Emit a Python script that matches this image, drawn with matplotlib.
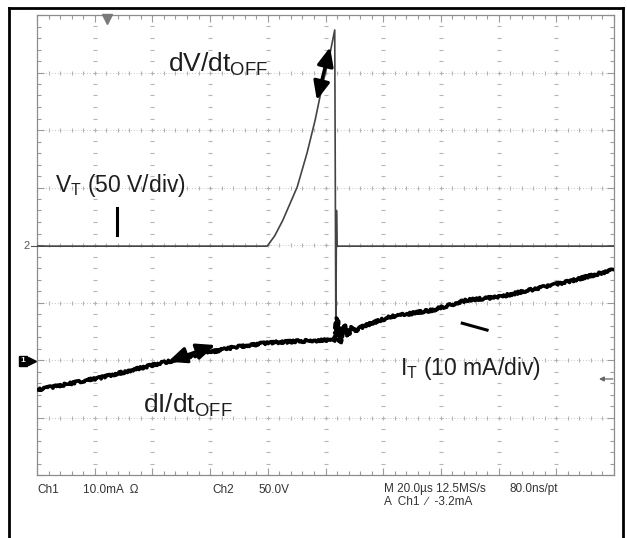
import matplotlib
matplotlib.use('Agg')
import matplotlib.pyplot as plt
import numpy as np
from matplotlib.lines import Line2D
from matplotlib.ticker import MultipleLocator

plt.rcParams.update({
    'font.family': ['Liberation Sans', 'DejaVu Sans'],
    'mathtext.default': 'regular',
})

W, H = 627, 538

# Ch2: device voltage V_T, in screen divisions (x: 0..10, y: 0..8)
v_time = [0.0, 3.99, 4.12, 4.26, 4.51, 4.68, 4.82, 4.94, 5.08, 5.16,
          5.18, 5.19, 5.20, 5.21, 10.0]
v_level = [3.98, 3.98, 4.16, 4.43, 5.01, 5.60, 6.17, 6.75, 7.34, 7.74,
           2.35, 4.60, 3.98, 3.98, 3.98]

# Ch1: device current I_T, in screen divisions
i_time = [0.0, 1.09, 1.96, 2.82, 3.42, 3.99, 4.60, 5.16, 5.20, 5.25, 5.32,
          5.39, 5.46, 5.53, 5.60, 5.72, 6.12, 6.86, 7.45, 8.02, 8.60, 9.19, 10.0]
i_level = [1.48, 1.69, 1.90, 2.10, 2.22, 2.30, 2.33, 2.35, 2.73, 2.30, 2.61,
           2.43, 2.57, 2.49, 2.56, 2.61, 2.75, 2.87, 3.04, 3.10, 3.23, 3.36, 3.57]

fig = plt.figure(figsize=(W / 100, H / 100), dpi=100)
fig.patch.set_facecolor('white')


def fxy(x, y):
    return x / W, 1 - y / H


# outer black frame (left, top, right)
for xs, ys in [((9, 9), (8, H)), ((9, 623), (8, 8)), ((623, 623), (8, H))]:
    fig.add_artist(Line2D([x / W for x in xs], [1 - y / H for y in ys],
                          color='black', lw=2.0, transform=fig.transFigure))

ax = fig.add_axes([37 / W, 1 - 475 / H, 577 / W, 460 / H])
ax.set_xlim(0, 10)
ax.set_ylim(0, 8)

# graticule
grid_c = '#b4b4b4'
for gx in range(1, 10):
    ax.plot([gx] * 41, np.arange(0, 8.01, 0.2), ls='none', marker='_',
            ms=3, mew=0.8, color=grid_c, zorder=1)
for gy in range(1, 8):
    ax.axhline(gy, color=grid_c, lw=0.6, ls=(0, (1, 2.5)), zorder=1)
    ax.plot(np.arange(0, 10.01, 0.2), [gy] * 51, ls='none', marker='|',
            ms=3, mew=0.8, color=grid_c, zorder=1)

for s in ax.spines.values():
    s.set_color('#8c8c8c')
    s.set_linewidth(0.9)
ax.xaxis.set_major_locator(MultipleLocator(1))
ax.yaxis.set_major_locator(MultipleLocator(1))
ax.xaxis.set_minor_locator(MultipleLocator(0.2))
ax.yaxis.set_minor_locator(MultipleLocator(0.2))
ax.tick_params(which='both', direction='in', top=True, right=True,
               labelbottom=False, labelleft=False, color='#9a9a9a')
ax.tick_params(which='major', length=5, width=0.8)
ax.tick_params(which='minor', length=3, width=0.8)

# traces
ax.plot(v_time, v_level, color='#444444', lw=1.2, zorder=3)
cur, = ax.plot(i_time, i_level, color='black', lw=2.6, zorder=4)
cur.set_sketch_params(scale=1.3, length=1.0, randomness=2)

# annotations
lab_c = '#1e1e1e'
ax.text(2.27, 7.01, 'dV/dt$_{OFF}$', fontsize=19, color=lab_c, va='baseline')
ax.text(0.31, 4.92, 'V$_T$ (50 V/div)', fontsize=16.5, color=lab_c, va='baseline')
ax.text(6.29, 1.74, 'I$_T$ (10 mA/div)', fontsize=16.5, color=lab_c, va='baseline')
ax.text(1.84, 1.08, 'dI/dt$_{OFF}$', fontsize=19, color=lab_c, va='baseline')

arr = dict(arrowstyle='<|-|>,head_length=0.8,head_width=0.35', color='black',
           lw=2.4, mutation_scale=14, shrinkA=0, shrinkB=0)
ax.annotate('', xy=(5.08, 7.44), xytext=(4.85, 6.52), arrowprops=arr, zorder=6)
ax.annotate('', xy=(3.09, 2.26), xytext=(2.27, 1.97), arrowprops=arr, zorder=6)
ax.plot([1.39, 1.39], [4.17, 4.64], color='black', lw=2.2, zorder=5)
ax.plot([7.37, 7.80], [2.64, 2.52], color='black', lw=2.2, zorder=5)

# scope markers
ax.plot([1.21], [7.93], marker='v', ms=7, color='#7a7a7a', clip_on=False, zorder=6)
ax.annotate('', xy=(9.74, 1.67), xytext=(9.98, 1.67),
            arrowprops=dict(arrowstyle='-|>', color='#666666', lw=0.9,
                            mutation_scale=7, shrinkA=0, shrinkB=0))
fig.text(*fxy(27, 246), '2', fontsize=8, color='#555555', ha='center', va='center')
fig.add_artist(Line2D([31 / W, 37 / W], [1 - 246 / H] * 2, color='#555555',
                      lw=0.8, transform=fig.transFigure))
fig.text(*fxy(23, 361), '1', fontsize=6, color='white', ha='center', va='center',
         fontweight='bold',
         bbox=dict(boxstyle='square,pad=0.15', fc='black', ec='black'))
fig.add_artist(Line2D([32 / W], [1 - 361 / H], marker='>', ms=6, color='black',
                      transform=fig.transFigure))

# scope status text
st = dict(fontsize=8.5, color='#333333', va='center', ha='left')
fig.text(*fxy(37, 490), 'Ch1', **st)
fig.text(*fxy(83, 490), '10.0mA  \u03a9', **st)
fig.text(*fxy(212, 490), 'Ch2', **st)
fig.text(*fxy(258, 490), '50.0V', **st)
fig.text(*fxy(384, 489), 'M 20.0\u00b5s 12.5MS/s', **st)
fig.text(*fxy(509, 489), '80.0ns/pt', **st)
fig.text(*fxy(384, 502), 'A  Ch1  \u2215  -3.2mA', **st)

fig.savefig('out.png', dpi=100)
